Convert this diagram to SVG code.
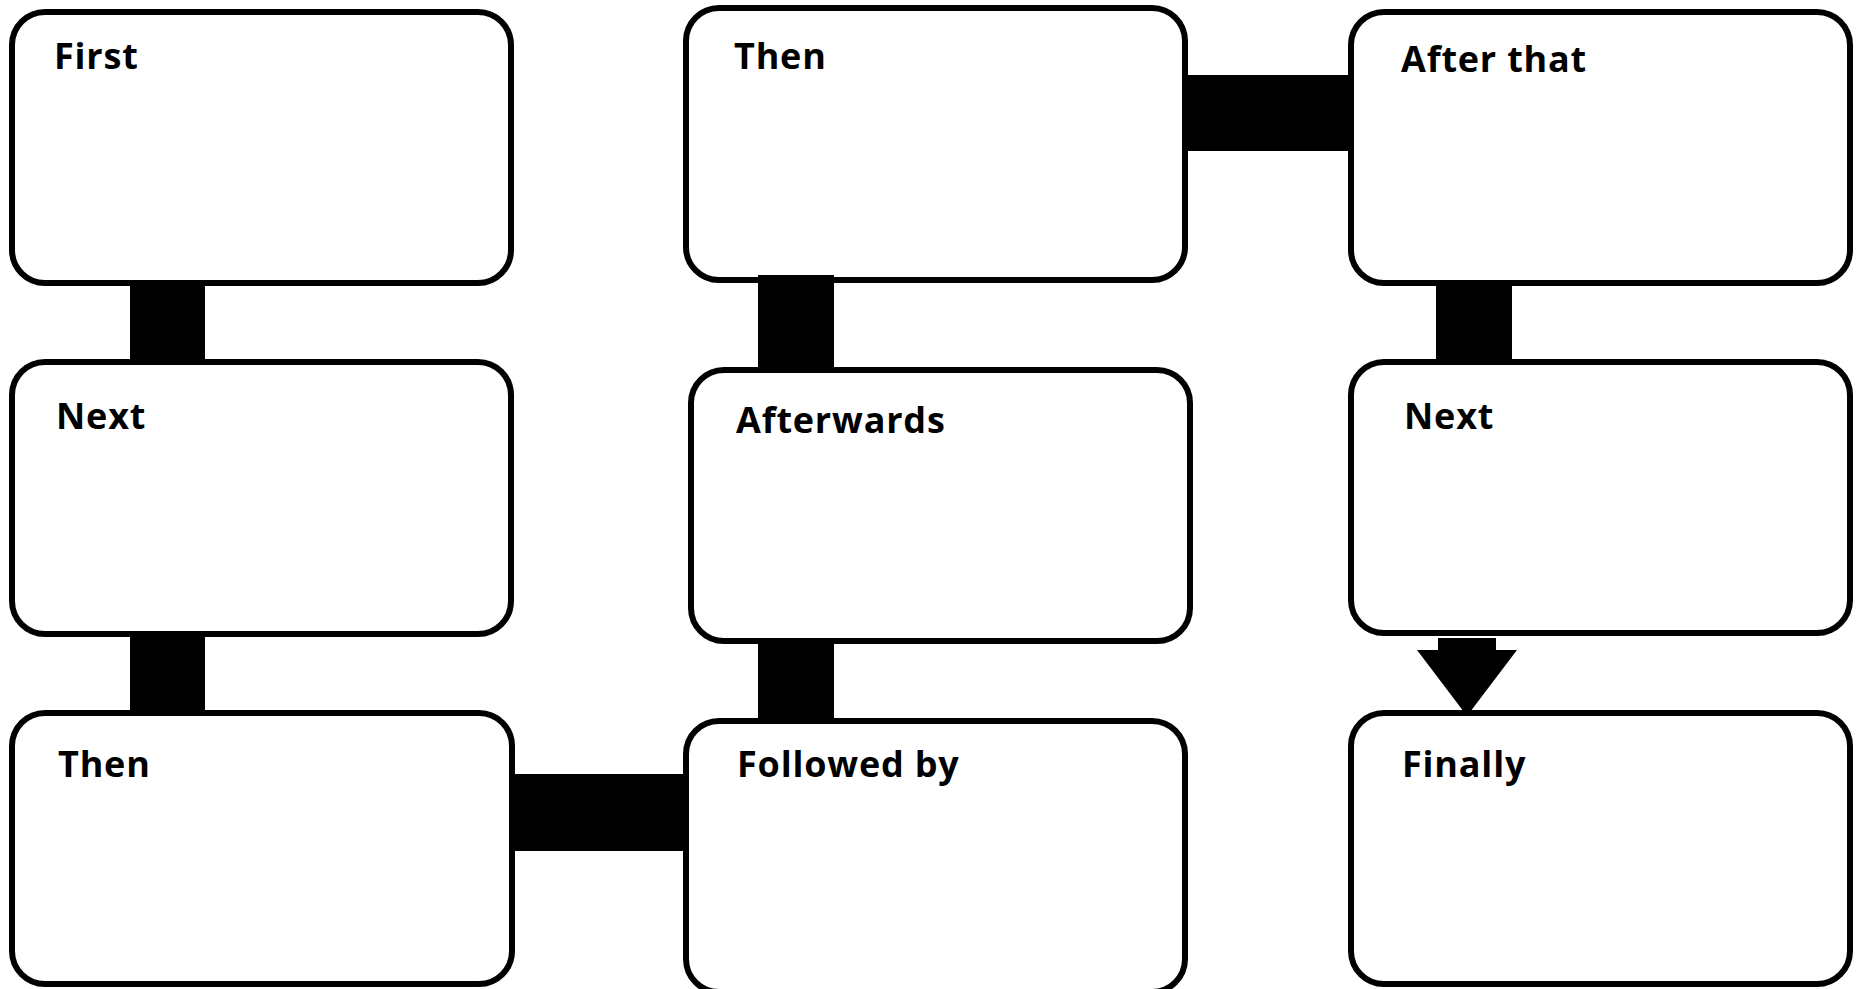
<svg xmlns="http://www.w3.org/2000/svg" width="1862" height="989" viewBox="0 0 1862 989">
<style>
.box{fill:#fff;stroke:#000;stroke-width:6}
.lbl{font-family:"Open Sans","Liberation Sans",sans-serif;font-weight:700;font-size:36px;letter-spacing:0.8px;fill:#000}
.conn{fill:#000}
</style>
<rect width="1862" height="989" fill="#fff"/>
<g id="n-first"><rect class="box" x="12" y="12" width="499" height="271" rx="33"/><text class="lbl" x="54" y="69">First</text></g>
<g id="n-then1"><rect class="box" x="686" y="8" width="499" height="272" rx="33"/><text class="lbl" x="734" y="69">Then</text></g>
<g id="n-afterthat"><rect class="box" x="1351" y="12" width="499" height="271" rx="33"/><text class="lbl" x="1401" y="72">After that</text></g>
<g id="n-next1"><rect class="box" x="12" y="362" width="499" height="272" rx="33"/><text class="lbl" x="56" y="429">Next</text></g>
<g id="n-afterwards"><rect class="box" x="691" y="370" width="499" height="271" rx="33"/><text class="lbl" x="736" y="433">Afterwards</text></g>
<g id="n-next2"><rect class="box" x="1351" y="362" width="499" height="271" rx="33"/><text class="lbl" x="1404" y="429">Next</text></g>
<g id="n-then2"><rect class="box" x="12" y="713" width="500" height="271" rx="33"/><text class="lbl" x="58" y="777">Then</text></g>
<g id="n-followedby"><rect class="box" x="686" y="721" width="499" height="271" rx="33"/><text class="lbl" x="737" y="777">Followed by</text></g>
<g id="n-finally"><rect class="box" x="1351" y="713" width="499" height="271" rx="33"/><text class="lbl" x="1402" y="777">Finally</text></g>
<g id="connectors">
<rect class="conn" x="130" y="285" width="75" height="75"/>
<rect class="conn" x="130" y="636" width="75" height="75"/>
<rect class="conn" x="1187" y="75" width="162" height="76"/>
<rect class="conn" x="758" y="275" width="76" height="93"/>
<rect class="conn" x="758" y="643" width="76" height="76"/>
<rect class="conn" x="514" y="774" width="170" height="77"/>
<rect class="conn" x="1436" y="285" width="76" height="75"/>
<polygon class="conn" points="1438,638 1496,638 1496,650 1517,650 1467,716 1417,650 1438,650"/>
</g>
</svg>
